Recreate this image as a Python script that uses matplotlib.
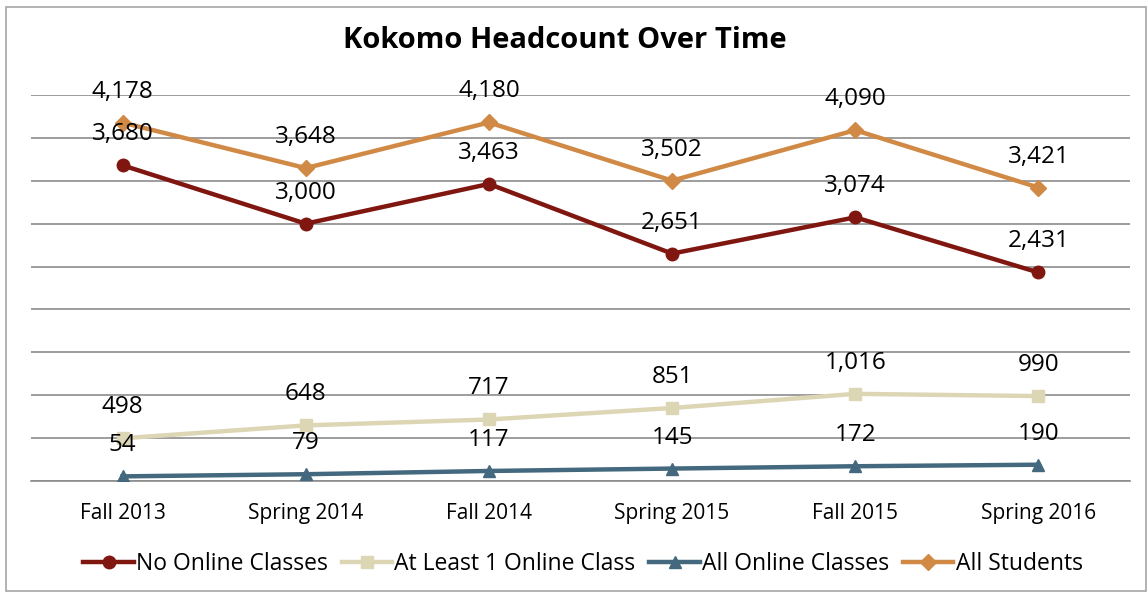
import numpy as np
import matplotlib.pyplot as plt
from matplotlib.patches import Rectangle

plt.rcParams['font.family'] = ['Open Sans', 'DejaVu Sans']

terms = ['Fall 2013', 'Spring 2014', 'Fall 2014', 'Spring 2015', 'Fall 2015', 'Spring 2016']
no_online = [3680, 3000, 3463, 2651, 3074, 2431]
at_least_one = [498, 648, 717, 851, 1016, 990]
all_online = [54, 79, 117, 145, 172, 190]
all_students = [4178, 3648, 4180, 3502, 4090, 3421]

series = [
    ('No Online Classes', no_online, '#801610', 'o'),
    ('At Least 1 Online Class', at_least_one, '#DDD6B5', 's'),
    ('All Online Classes', all_online, '#44687D', '^'),
    ('All Students', all_students, '#D08A45', 'D'),
]

fig = plt.figure(figsize=(11.48, 5.93), dpi=100)
ax = fig.add_axes([31 / 1148, 1 - 481 / 593, 1099 / 1148, 386 / 593])

x = np.arange(len(terms))
for name, vals, col, mk in series:
    ax.plot(x, vals, color=col, lw=3.2, marker=mk, ms=9 if mk != 'D' else 8,
            label=name, zorder=3)
    for xi, v in zip(x, vals):
        ax.annotate(f'{v:,}', (xi, v), xytext=(0, 31), textcoords='offset pixels',
                    ha='center', va='center', fontsize=17.5, color='black', zorder=4)

ax.set_xlim(-0.5, 5.5)
ax.set_ylim(0, 4500)
ax.set_yticks(np.arange(0, 4501, 500))
ax.set_yticklabels([])
ax.tick_params(axis='y', length=0)
ax.tick_params(axis='x', length=0, pad=16, labelsize=15)
ax.set_xticks(x)
ax.set_xticklabels(terms)
ax.grid(axis='y', color='#8C8C8C', lw=1.2, zorder=0)
for s in ['top', 'right', 'left']:
    ax.spines[s].set_visible(False)
ax.spines['bottom'].set_color('#8C8C8C')
ax.spines['bottom'].set_linewidth(1.2)

fig.text(565 / 1148, 1 - 40 / 593, 'Kokomo Headcount Over Time', ha='center',
         va='center', fontsize=21, fontweight='bold')

fig.legend(loc='center', bbox_to_anchor=(583 / 1148, 1 - 564 / 593), ncol=4,
           frameon=False, fontsize=16.5, handlelength=2.2, handletextpad=0.1,
           columnspacing=0.6, borderaxespad=0)

fig.patches.append(Rectangle((6 / 1148, 0.004), 1 - 6 / 1148 - 0.002, 1 - 7 / 593 - 0.004,
                             transform=fig.transFigure, fill=False,
                             edgecolor='#A6A6A6', lw=1.2))

fig.savefig('out.png', dpi=100)
